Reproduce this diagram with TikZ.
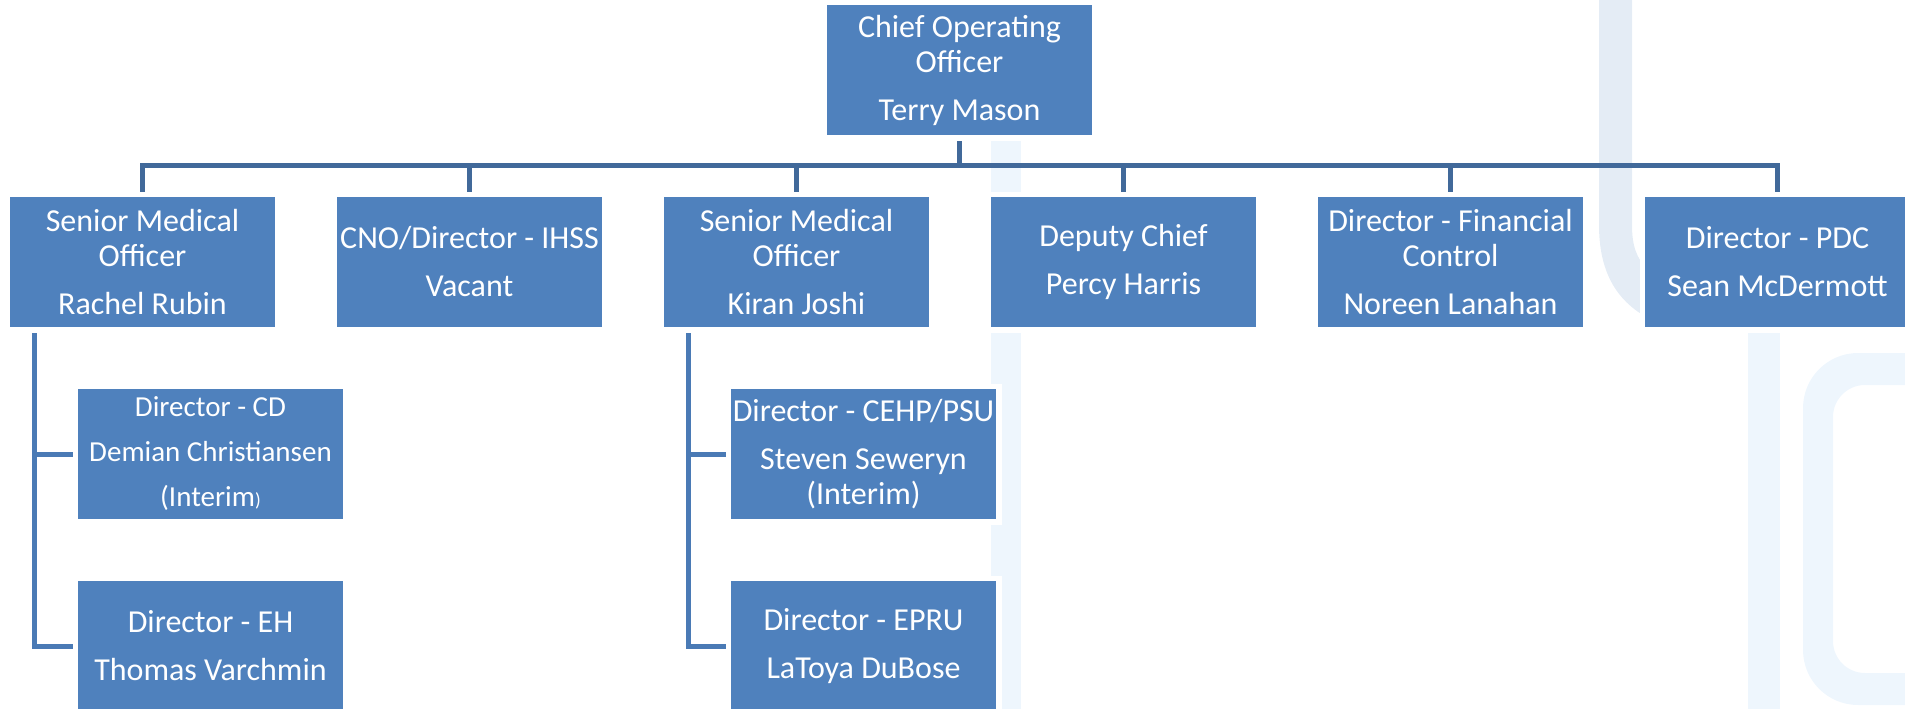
\documentclass[tikz,border=0pt]{standalone}
\usepackage{fontspec}
\setmainfont{Carlito}
\usetikzlibrary{calc,backgrounds}
\definecolor{boxblue}{HTML}{4F81BD}
\definecolor{busblue}{HTML}{41699A}
\definecolor{subblue}{HTML}{4A7AB5}
\definecolor{wmA}{HTML}{EEF6FD}
\definecolor{wmB}{HTML}{E4ECF5}
\begin{document}
\begin{tikzpicture}[x=1pt,y=-1pt,
  orgbox/.style={rectangle, fill=boxblue, text=white, minimum width=265pt,
    minimum height=130pt, inner sep=0pt, align=center,
    font=\fontsize{32}{35}\selectfont,
    preaction={draw=white, line width=11pt}},
  subfont/.style={font=\fontsize{29}{35}\selectfont},
  conn/.style={draw=busblue, line width=5pt},
  subconn/.style={draw=subblue, line width=5pt}]
\useasboundingbox (0,0) rectangle (1905,709);

% boxes
\node[orgbox] (coo) at (959.5,70) {Chief Operating\\Officer\\[13pt]Terry Mason};
\node[orgbox] (b1) at (142.5,262) {Senior Medical\\Officer\\[13pt]Rachel Rubin};
\node[orgbox] (b2) at (469.5,262) {CNO/Director - IHSS\\[13pt]Vacant};
\node[orgbox] (b3) at (796.5,262) {Senior Medical\\Officer\\[13pt]Kiran Joshi};
\node[orgbox] (b4) at (1123.5,262) {Deputy Chief\\[13pt]Percy Harris};
\node[orgbox] (b5) at (1450.5,262) {Director - Financial\\Control\\[13pt]Noreen Lanahan};
\node[orgbox] (b6) at (1777.5,262) {Director - PDC\\[13pt]Sean McDermott};

\node[orgbox,subfont] (cd) at (210.5,454) {Director - CD\\[10pt]Demian Christiansen\\[10pt](Interim{\fontsize{19}{19}\selectfont)}};
\node[orgbox] (eh) at (210.5,646) {Director - EH\\[13pt]Thomas Varchmin};
\node[orgbox] (cehp) at (863.5,454) {Director - CEHP/PSU\\[13pt]Steven Seweryn\\(Interim)};
\node[orgbox] (epru) at (863.5,646) {Director - EPRU\\[13pt]LaToya DuBose};

\begin{pgfonlayer}{background}
  % watermark
  \fill[wmA] (991,-2) rectangle (1021,712);
  \fill[wmB] (1599,-2) -- (1599,225) .. controls (1599,270) and (1615,300) .. (1648,318)
     -- (1648,270) .. controls (1636,258) and (1632,245) .. (1632,225) -- (1632,-2) -- cycle;
  \fill[wmA] (1748,300) rectangle (1780,712);
  \fill[wmA, even odd rule] [rounded corners=55pt] (1803,353) rectangle (1990,705)
     [rounded corners=32pt] (1833,385) rectangle (1960,673);

  % connectors
  \coordinate (bus) at (960,165.5);
  \draw[conn] (coo.south) -- (coo.south |- bus);
  \draw[conn] (b1.north) -- (b1.north |- bus) -- (b6.north |- bus) -- (b6.north);
  \foreach \b in {b2,b3,b4,b5} {\draw[conn] (\b.north |- bus) -- (\b.north);}

  \coordinate (l1) at ($(b1.south west)+(24.5,0)$);
  \draw[subconn] (l1) -- (l1 |- eh.west) -- (eh.west);
  \draw[subconn] (l1 |- cd.west) -- (cd.west);
  \coordinate (l3) at ($(b3.south west)+(25,0)$);
  \draw[subconn] (l3) -- (l3 |- epru.west) -- (epru.west);
  \draw[subconn] (l3 |- cehp.west) -- (cehp.west);
\end{pgfonlayer}
\end{tikzpicture}
\end{document}
